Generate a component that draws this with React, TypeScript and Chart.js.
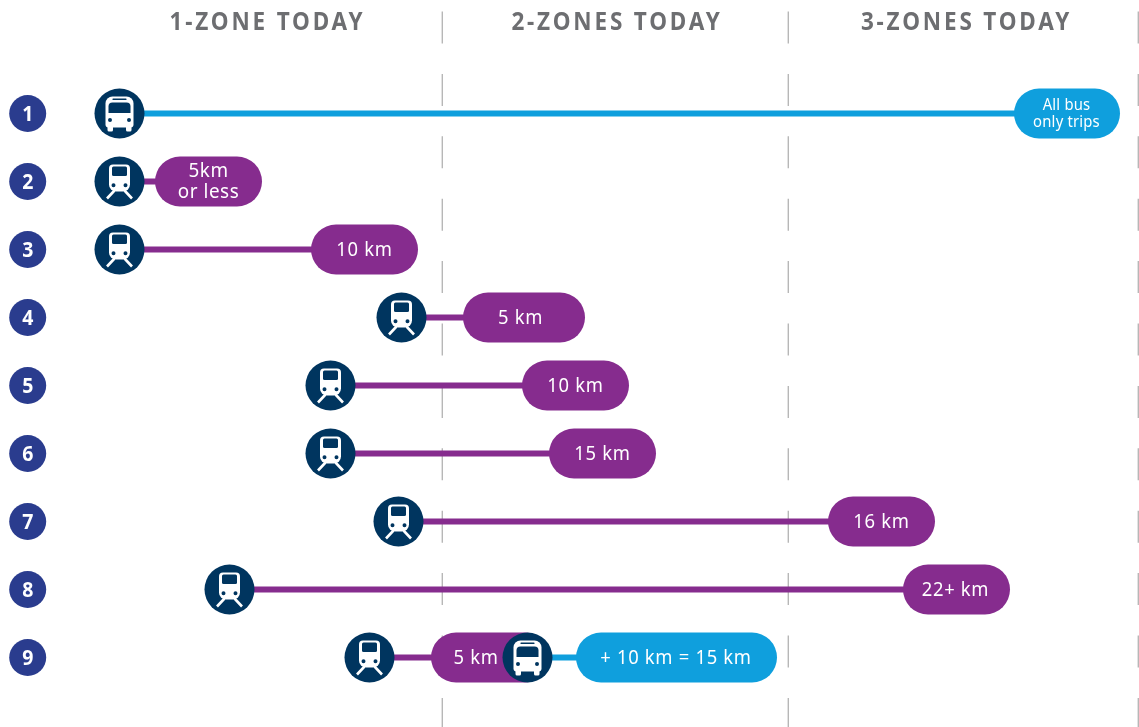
import React, { useEffect, useRef } from "react";
import { Chart, registerables } from "chart.js";

Chart.register(...registerables);

const rowNumbers = [1, 2, 3, 4, 5, 6, 7, 8, 9];
const zoneHeaders = ["1-ZONE TODAY", "2-ZONES TODAY", "3-ZONES TODAY"];
const zoneHeaderX = [267.5, 617, 966.5];
const zoneBoundaries = [442.3, 788.3, 1138.3];

// One entry per trip leg (row 9 has two legs)
const legRows = [1, 2, 3, 4, 5, 6, 7, 8, 9, 9];
const legModes = ["bus", "rail", "rail", "rail", "rail", "rail", "rail", "rail", "rail", "bus"];
const legStart = [119.5, 119.5, 119.5, 401.5, 330.5, 330.5, 398.5, 229.5, 369.5, 527.5];
const pillStart = [1014, 155, 311, 463, 522, 549, 828, 903, 431, 576];
const pillEnd = [1120, 262, 418, 585, 629, 656, 935, 1010, 550, 777];
const pillLabels = [
  ["All bus", "only trips"],
  ["5km", "or less"],
  ["10 km"],
  ["5 km"],
  ["10 km"],
  ["15 km"],
  ["16 km"],
  ["22+ km"],
  ["5 km"],
  ["+ 10 km = 15 km"],
];
const pillLabelX = [1066.5, 208.5, 364.5, 520.5, 575.5, 602.5, 881.5, 955.5, 476, 676];

const BLUE = "#0f9fdd";
const PURPLE = "#862c8e";
const NAVY = "#00355f";
const INDIGO = "#2a3c8e";
const GREY = "#6d6e71";
const FONT = '"Noto Sans", sans-serif';

function roundRect(c: CanvasRenderingContext2D, x: number, y: number, w: number, h: number, r: number | number[]) {
  c.beginPath();
  c.roundRect(x, y, w, h, r);
  c.fill();
}

function makeIcon(mode: string): HTMLCanvasElement {
  const cv = document.createElement("canvas");
  cv.width = 51;
  cv.height = 51;
  const c = cv.getContext("2d")!;
  c.translate(25.5, 25.5);
  c.fillStyle = NAVY;
  c.beginPath();
  c.arc(0, 0, 25, 0, Math.PI * 2);
  c.fill();
  c.fillStyle = "#fff";
  if (mode === "bus") {
    roundRect(c, -14, -17, 28, 31, [7, 7, 3, 3]);
    roundRect(c, -12, 12, 5.5, 6, 1.5);
    roundRect(c, 6.5, 12, 5.5, 6, 1.5);
    c.fillStyle = NAVY;
    roundRect(c, -7, -15, 14, 1.6, 0.5);
    roundRect(c, -11, -11, 22, 10.5, [4, 4, 0, 0]);
    c.beginPath();
    c.arc(-9.5, 6.5, 2, 0, Math.PI * 2);
    c.arc(9.5, 6.5, 2, 0, Math.PI * 2);
    c.fill();
  } else {
    roundRect(c, -10.5, -17, 21, 27, [4, 4, 7, 7]);
    c.fillStyle = NAVY;
    roundRect(c, -7.5, -15, 15, 9.5, 1.5);
    c.beginPath();
    c.arc(-6, 3.7, 2, 0, Math.PI * 2);
    c.arc(6, 3.7, 2, 0, Math.PI * 2);
    c.fill();
    c.strokeStyle = "#fff";
    c.lineWidth = 2.6;
    c.beginPath();
    c.moveTo(-5, 9);
    c.lineTo(-12.5, 17);
    c.moveTo(5, 9);
    c.lineTo(12.5, 17);
    c.stroke();
  }
  return cv;
}

function narrowText(c: CanvasRenderingContext2D, text: string, x: number, y: number, sx: number) {
  c.save();
  c.translate(x, y);
  c.scale(sx, 1);
  c.fillText(text, 0, 0);
  c.restore();
}

const textPlugin = {
  id: "chartText",
  afterDatasetsDraw(chart: any) {
    const c: CanvasRenderingContext2D = chart.ctx;
    const xs = chart.scales.x;
    const ys = chart.scales.y;
    c.save();
    c.textAlign = "center";
    c.textBaseline = "middle";
    // Column headers
    c.fillStyle = GREY;
    c.font = `bold 25.6px ${FONT}`;
    (c as any).letterSpacing = "3.2px";
    zoneHeaders.forEach((t, i) =>
      narrowText(c, t, xs.getPixelForValue(zoneHeaderX[i]), ys.getPixelForValue(-0.335), 0.88)
    );
    // Row numbers
    c.fillStyle = "#fff";
    c.font = `bold 20.5px ${FONT}`;
    (c as any).letterSpacing = "0px";
    rowNumbers.forEach((n) => narrowText(c, String(n), xs.getPixelForValue(27.7), ys.getPixelForValue(n) + 1.5, 0.95));
    // Pill labels
    pillLabels.forEach((lines, i) => {
      const small = i === 0;
      const two = lines.length === 2;
      c.font = `${small ? 16.5 : two ? 20.5 : 20}px ${FONT}`;
      (c as any).letterSpacing = small ? "0.2px" : two ? "0.6px" : "0.75px";
      const gap = small ? 16.5 : 21;
      lines.forEach((t, k) => {
        const off = two ? (k - 0.5) * gap - 0.8 : 0;
        narrowText(c, t, xs.getPixelForValue(pillLabelX[i]), ys.getPixelForValue(legRows[i]) + off + 1.2, small ? 0.9 : 0.92);
      });
    });
    c.restore();
  },
};

export default function App() {
  const ref = useRef<HTMLCanvasElement>(null);

  useEffect(() => {
    document.body.style.margin = "0";
    const icons: Record<string, HTMLCanvasElement> = { bus: makeIcon("bus"), rail: makeIcon("rail") };
    const Y_TOP = -0.5;
    const Y_BOTTOM = 10.03;
    const base = { showLine: true, pointRadius: 0, clip: false, tension: 0, fill: false };

    const layers: any[] = [];
    zoneBoundaries.forEach((x) =>
      layers.push({
        ...base,
        label: `boundary ${x}`,
        data: [{ x, y: Y_TOP }, { x, y: Y_BOTTOM }],
        borderColor: "#b7b7b7",
        borderWidth: 1.4,
        borderDash: [32, 30.4],
      })
    );
    legRows.forEach((row, i) => {
      const color = legModes[i] === "bus" ? BLUE : PURPLE;
      layers.push({
        ...base,
        label: `leg ${i} line`,
        data: [{ x: legStart[i], y: row }, { x: pillStart[i] + 5, y: row }],
        borderColor: color,
        borderWidth: 6,
      });
      layers.push({
        ...base,
        label: `leg ${i} pill`,
        data: [{ x: pillStart[i] + 25, y: row }, { x: pillEnd[i] - 25, y: row }],
        borderColor: color,
        borderWidth: 50,
        borderCapStyle: "round",
      });
    });
    legRows.forEach((row, i) =>
      layers.push({
        ...base,
        label: `leg ${i} origin`,
        showLine: false,
        data: [{ x: legStart[i], y: row }],
        pointStyle: icons[legModes[i]],
        pointRadius: 25,
      })
    );
    layers.push({
      ...base,
      label: "row numbers",
      showLine: false,
      data: rowNumbers.map((n) => ({ x: 27.7, y: n })),
      pointStyle: "circle",
      pointRadius: 18.5,
      pointBorderWidth: 0,
      pointBackgroundColor: INDIGO,
    });
    const datasets = layers.map((d, i) => ({ ...d, order: layers.length - i }));

    const chart = new Chart(ref.current!, {
      type: "scatter",
      data: { datasets },
      options: {
        animation: false,
        responsive: false,
        devicePixelRatio: 1,
        layout: { padding: 0, autoPadding: false },
        events: [],
        plugins: { legend: { display: false }, tooltip: { enabled: false }, title: { display: false } },
        scales: {
          x: { type: "linear", display: false, min: 0, max: 1139 },
          y: { type: "linear", display: false, reverse: true, min: 1 - 113.5 / 68, max: 1 + (727 - 113.5) / 68 },
        },
      },
      plugins: [textPlugin],
    } as any);
    return () => chart.destroy();
  }, []);

  return (
    <div style={{ position: "absolute", left: 0, top: 0, width: 1139, height: 727, background: "#fff" }}>
      <canvas ref={ref} width={1139} height={727} style={{ display: "block", width: 1139, height: 727 }} />
    </div>
  );
}
